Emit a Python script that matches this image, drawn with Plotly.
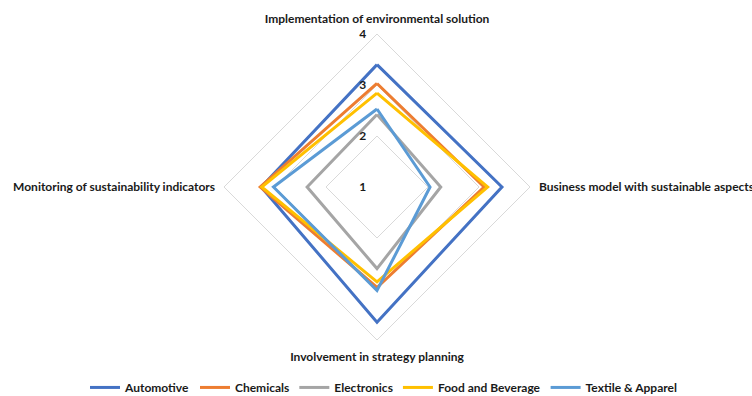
import plotly.graph_objects as go

categories = [
    "Implementation of environmental solution",
    "Business model with sustainable aspects",
    "Involvement in strategy planning",
    "Monitoring of sustainability indicators",
]
series_names = ["Automotive", "Chemicals", "Electronics", "Food and Beverage", "Textile & Apparel"]
automotive = [3.4, 3.45, 3.65, 3.27]
chemicals = [3.03, 3.1, 2.97, 3.29]
electronics = [2.42, 2.25, 2.6, 2.37]
food_beverage = [2.84, 3.17, 2.86, 3.26]
textile_apparel = [2.53, 2.04, 3.03, 3.03]
radial_ticks = [1, 2, 3, 4]

colors = ["#4472C4", "#ED7D31", "#A5A5A5", "#FFC000", "#5B9BD5"]
values = [automotive, chemicals, electronics, food_beverage, textile_apparel]

fig = go.Figure()
for name, vals, col in zip(series_names, values, colors):
    fig.add_trace(go.Scatterpolar(
        r=vals + vals[:1],
        theta=categories + categories[:1],
        mode="lines",
        name=name,
        line=dict(color=col, width=3),
    ))

FONT = "Lato"
TXT = "#1a1a1a"
fig.update_layout(
    width=752, height=396,
    margin=dict(l=0, r=0, t=0, b=0, autoexpand=False),
    paper_bgcolor="white",
    font=dict(family=FONT, size=12, color=TXT),
    polar=dict(
        domain=dict(x=[224/752, 530/752], y=[56/396, 362/396]),
        bgcolor="white",
        gridshape="linear",
        radialaxis=dict(
            range=[1, 4], tickvals=radial_ticks, ticktext=[str(t) for t in radial_ticks],
            angle=90, side="counterclockwise", tickangle=90,
            showline=False, showgrid=True, gridcolor="#D9D9D9", gridwidth=1,
            ticks="outside", ticklen=6, tickcolor="rgba(0,0,0,0)",
            tickfont=dict(family=FONT, size=12, color=TXT, weight="bold"),
        ),
        angularaxis=dict(
            direction="clockwise", rotation=90,
            showgrid=False, showline=True, linecolor="#D9D9D9", linewidth=1,
            ticks="outside", ticklen=6, tickcolor="rgba(0,0,0,0)",
            tickfont=dict(family=FONT, size=12, color=TXT, weight="bold"),
        ),
    ),
    legend=dict(
        orientation="h", x=0.51, xanchor="center", y=-0.015, yanchor="bottom",
        font=dict(family=FONT, size=12, color=TXT, weight="bold"),
        itemwidth=30,
    ),
)

fig.write_html("out.html")
